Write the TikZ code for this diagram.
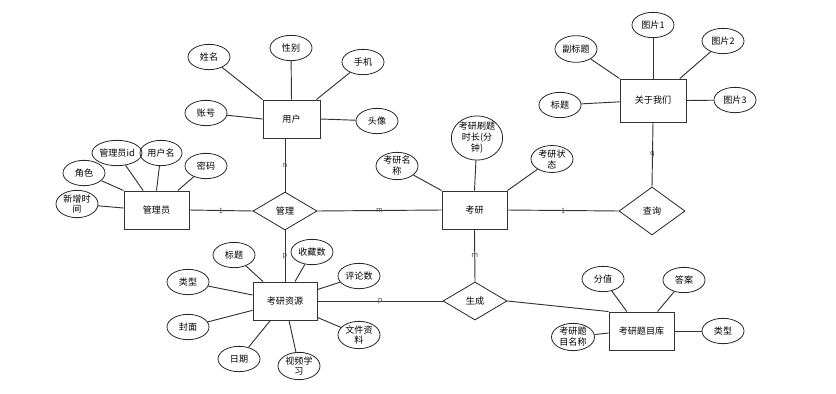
\documentclass[tikz,border=0pt]{standalone}
\usepackage{fontspec}
\setmainfont{Noto Sans CJK SC}
\usetikzlibrary{shapes.geometric}
\begin{document}
\begin{tikzpicture}[x=0.75pt,y=-0.75pt,
  font=\fontsize{6.8}{8.2}\selectfont,
  ent/.style={draw=black!80,line width=0.7pt,minimum width=48.75pt,minimum height=28.5pt,inner sep=0pt,align=center},
  attr/.style={draw=black!85,ellipse,line width=0.6pt,minimum width=31.5pt,minimum height=19pt,inner sep=0pt,align=center},
  rel/.style={draw=black!85,diamond,line width=0.6pt,minimum width=48pt,minimum height=28.5pt,inner sep=0pt},
  conn/.style={draw=black!80,line width=0.7pt},
  lbl/.style={font=\fontsize{5.5}{5.5}\selectfont,text=black!70,inner sep=0pt}]
\useasboundingbox (0,0) rectangle (836,393);
% entities
\node[ent,minimum width=42.75pt] (user) at (291.5,119) {用户};
\node[ent] (admin) at (156.5,210) {管理员};
\node[ent,minimum width=48pt] (res) at (285,301) {考研资源};
\node[ent] (ky) at (474.5,210) {考研};
\node[ent,minimum width=49.5pt,minimum height=32.25pt] (ab) at (653,100.5) {关于我们};
\node[ent] (tk) at (641.5,331) {考研题目库};
% relations
\node[rel] (mg) at (285,211) {管理};
\node[rel,minimum width=49.5pt,minimum height=36pt] (cx) at (652,211) {查询};
\node[rel] (sc) at (475,301) {生成};
% attributes of user
\node[attr] (u1) at (209,57) {姓名};
\node[attr] (u2) at (291,48) {性别};
\node[attr] (u3) at (363,62) {手机};
\node[attr] (u4) at (206,113) {账号};
\node[attr] (u5) at (377,121) {头像};
% attributes of admin
\node[attr] (a1) at (117,153) {管理员id};
\node[attr] (a2) at (161,153) {用户名};
\node[attr] (a3) at (206,166) {密码};
\node[attr] (a4) at (84,173) {角色};
\node[attr] (a5) at (77,204) {新增时\\间};
% attributes of res
\node[attr] (r1) at (234,255) {标题};
\node[attr] (r2) at (312,252) {收藏数};
\node[attr] (r3) at (359,276) {评论数};
\node[attr] (r4) at (188,282) {类型};
\node[attr] (r5) at (188,327) {封面};
\node[attr] (r6) at (239,359) {日期};
\node[attr] (r7) at (299,366) {视频学\\习};
\node[attr] (r8) at (359,335) {文件资\\料};
% attributes of ky
\node[attr] (k1) at (397,166) {考研名\\称};
\node[attr,minimum width=35.25pt,minimum height=27.75pt] (k2) at (477,138) {考研刷题\\时长(分\\钟)};
\node[attr] (k3) at (552,159) {考研状\\态};
% attributes of ab
\node[attr,minimum height=20pt] (b1) at (576,49) {副标题};
\node[attr] (b2) at (653,25) {图片1};
\node[attr] (b3) at (723,41) {图片2};
\node[attr] (b4) at (735,100) {图片3};
\node[attr] (b5) at (560,105) {标题};
% attributes of tk
\node[attr] (t1) at (603,279) {分值};
\node[attr] (t2) at (684,280) {答案};
\node[attr] (t3) at (723,331) {类型};
\node[attr,minimum width=32.25pt,minimum height=20pt] (t4) at (573,337) {考研题\\目名称};
% attribute connectors
\draw[conn] (u1) -- (user.north west);
\draw[conn] (u2) -- (user.north);
\draw[conn] (u3) -- ([xshift=-3pt]user.north east);
\draw[conn] (u4) -- (user.west);
\draw[conn] (u5) -- (user.east);
\draw[conn] (a1) -- ([xshift=-10pt]admin.north);
\draw[conn] (a2) -- (admin.north);
\draw[conn] (a3) -- ([xshift=16pt]admin.north);
\draw[conn] (a4) -- (admin.north west);
\draw[conn] (a5) -- ([yshift=1.5pt]admin.west);
\draw[conn] (r1) -- ([xshift=-16.5pt]res.north);
\draw[conn] (r2) -- ([xshift=7.5pt]res.north);
\draw[conn] (r3) -- ([yshift=-6pt]res.north east);
\draw[conn] (r4) -- ([yshift=4.5pt]res.west);
\draw[conn] (r5) -- ([yshift=-7pt]res.west);
\draw[conn] (r6) -- ([xshift=-11pt]res.south);
\draw[conn] (r7) -- ([xshift=3pt]res.south);
\draw[conn] (r8) -- ([yshift=2.25pt]res.south east);
\draw[conn] (k1) -- (ky.north west);
\draw[conn] (k2) -- (ky.north);
\draw[conn] (k3) -- (ky.north east);
\draw[conn] (b1) -- (ab.north west);
\draw[conn] (b2) -- (ab.north);
\draw[conn] (b3) -- ([xshift=-5pt]ab.north east);
\draw[conn] (b4) -- (ab.east);
\draw[conn] (b5) -- ([yshift=-1pt]ab.west);
\draw[conn] (t1) -- ([xshift=-11pt]tk.north);
\draw[conn] (t2) -- ([xshift=12pt]tk.north);
\draw[conn] (t3) -- (tk.east);
\draw[conn] (t4) -- ([yshift=-1.5pt]tk.west);
% relationship connectors
\draw[conn] (mg.north |- user.south) -- node[lbl]{n} (mg.north);
\draw[conn] (admin.east) -- node[lbl]{1} (mg.west);
\draw[conn] (mg.east) -- node[lbl]{m} (ky.west);
\draw[conn] (mg.south) -- node[lbl]{p} (res.north);
\draw[conn] (res.east) -- node[lbl]{p} (sc.west);
\draw[conn] (ky.east) -- node[lbl]{1} (cx.west);
\draw[conn] (ab.south) -- node[lbl]{q} (cx.north);
\draw[conn] (ky.south) -- node[lbl]{m} (sc.north);
\draw[conn] (sc.east) -- (tk.north west);
\end{tikzpicture}
\end{document}
